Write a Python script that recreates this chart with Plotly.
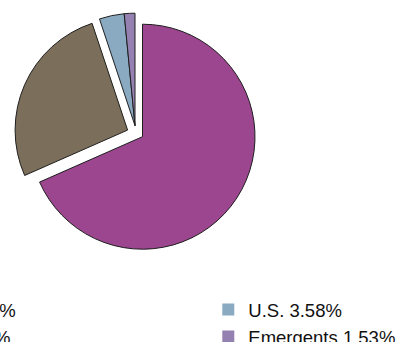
import plotly.graph_objects as go

labels = ["Europe 68.39%", "Pacific 26.50%", "U.S. 3.58%", "Emergents 1.53%"]
values = [68.39, 26.50, 3.58, 1.53]
colors = ["#9C468F", "#7B6E5A", "#8AAAC2", "#9481B2"]

W, H = 396, 342
T = "rgba(0,0,0,0)"
OUT = "#1e1e1e"

def dom(cx, cy, half):
    return dict(x=[(cx - half) / W, (cx + half) / W],
                y=[(H - cy - half) / H, (H - cy + half) / H])

R = 112.5
pull_b = 0.145

fig = go.Figure()
# main pie: first two slices (brown exploded)
fig.add_trace(go.Pie(
    labels=labels, values=values, sort=False, direction="clockwise", rotation=0,
    marker=dict(colors=[colors[0], colors[1], T, T],
                line=dict(color=OUT, width=[1, 1, 0, 0])),
    pull=[0, pull_b, 0, 0], textinfo="none", hoverinfo="label",
    showlegend=False, domain=dom(142.5, 136.7, R * (1 + pull_b))))
# small slices exploded as a group
fig.add_trace(go.Pie(
    labels=labels, values=values, sort=False, direction="clockwise", rotation=0,
    marker=dict(colors=[T, T, colors[2], colors[3]],
                line=dict(color=OUT, width=[0, 0, 1, 1])),
    textinfo="none", hoverinfo="label",
    showlegend=False, domain=dom(135.0, 125.7, R)))
# legend-only traces (drawn as a vanishingly small pie)
tiny = dict(x=[0.9, 0.90001], y=[0.9, 0.90001])
fig.add_trace(go.Pie(
    labels=labels[:2], values=values[:2], sort=False,
    marker=dict(colors=colors[:2], line=dict(width=0)),
    textinfo="none", hoverinfo="skip", legend="legend", domain=tiny))
fig.add_trace(go.Pie(
    labels=labels[2:], values=values[2:], sort=False,
    marker=dict(colors=colors[2:], line=dict(width=0)),
    textinfo="none", hoverinfo="skip", legend="legend2", domain=tiny))

legfont = dict(family="Arial, Liberation Sans, sans-serif", size=18.5, color="#111111")
fig.update_layout(
    width=W, height=H,
    margin=dict(l=0, r=0, t=0, b=0, pad=0, autoexpand=False),
    paper_bgcolor="white", plot_bgcolor="white",
    legend=dict(orientation="v", x=-151.8 / W, xanchor="left", y=(H - 291) / H, yanchor="top",
                font=legfont, bgcolor="rgba(0,0,0,0)", borderwidth=0),
    legend2=dict(orientation="v", x=208.3 / W, xanchor="left", y=(H - 291) / H, yanchor="top",
                 font=legfont, bgcolor="rgba(0,0,0,0)", borderwidth=0),
)
fig.write_html("out.html")
